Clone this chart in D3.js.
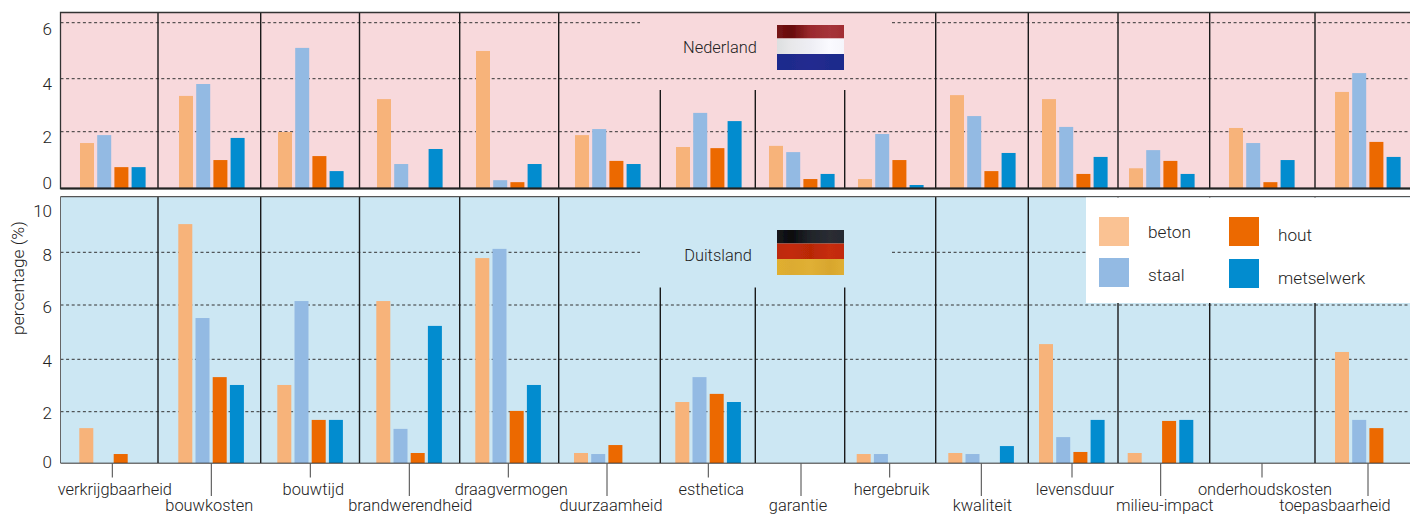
<!DOCTYPE html>
<html>
<head>
<meta charset="utf-8">
<script src="https://cdn.jsdelivr.net/npm/d3@7"></script>
<style>
  html, body { margin: 0; padding: 0; background: #fff; }
  svg { display: block; }
  text { font-family: Roboto, sans-serif; font-weight: 300; fill: #222; }
</style>
</head>
<body>
<div id="chart"></div>
<script>
const categories = ["verkrijgbaarheid", "bouwkosten", "bouwtijd", "brandwerendheid", "draagvermogen",
    "duurzaamheid", "esthetica", "garantie", "hergebruik", "kwaliteit", "levensduur", "milieu-impact",
    "onderhoudskosten", "toepasbaarheid"];
const materials = ["beton", "staal", "hout", "metselwerk"];

// per categorie: beton, staal, hout, metselwerk (0 = geen staaf)
const nederland = [
    [1.60, 1.88, 0.75, 0.75],
    [3.35, 3.80, 1.00, 1.78],
    [1.99, 5.10, 1.14, 0.61],
    [3.23, 0.86, 0, 1.39],
    [4.99, 0.29, 0.22, 0.86],
    [1.88, 2.10, 0.97, 0.86],
    [1.46, 2.71, 1.42, 2.40],
    [1.50, 1.28, 0.33, 0.51],
    [0.33, 1.92, 1.00, 0.12],
    [3.38, 2.59, 0.61, 1.25],
    [3.23, 2.18, 0.51, 1.11],
    [0.71, 1.35, 0.97, 0.51],
    [2.14, 1.60, 0.22, 1.00],
    [3.50, 4.20, 1.64, 1.11]
];
const duitsland = [
    [1.36, 0, 0.35, 0],
    [9.07, 5.52, 3.32, 3.02],
    [3.02, 6.15, 1.68, 1.68],
    [6.15, 1.33, 0.39, 5.23],
    [7.78, 8.13, 2.03, 3.02],
    [0.39, 0.35, 0.70, 0],
    [2.37, 3.32, 2.68, 2.37],
    [0, 0, 0, 0],
    [0.35, 0.35, 0, 0],
    [0.39, 0.35, 0, 0.66],
    [4.56, 1.01, 0.43, 1.68],
    [0.39, 0, 1.64, 1.68],
    [0, 0, 0, 0],
    [4.27, 1.68, 1.36, 0]
];
const ticksNL = [0, 2, 4, 6];
const ticksDE = [0, 2, 4, 6, 8, 10];

const colors = { beton: "#f7b37a", staal: "#93bae3", hout: "#ec6900", metselwerk: "#028ccf" };

const width = 1410, height = 515, left = 60.5;

// de kolommen in het origineel zijn niet even breed
const groupLeftNL = [80, 179, 278, 377, 476, 575, 676, 769, 858, 950, 1042, 1129, 1229, 1335];
const groupLeftDE = [79.3, 178.3, 277.3, 376.3, 475.3, 574, 675.3, 768, 856.7, 948.3, 1039, 1127.7, 1229, 1335];
const fullSeparators = [158, 260.7, 359.5, 459.7, 558.7, 935.7, 1028.3, 1118, 1209.7, 1315];
const shortSeparators = [660.3, 755.3, 844.7];
const labelShift = [2.5, -2, 3, 1, 3, 4, 3, -3, 2, 1, 3, 4, 3, -33];

const panelNL = { top: 13, bottom: 188.4, grid: [131.7, 78.7, 22.7], labels: [183, 137, 84, 29], shortTop: 90 };
const panelDE = { top: 197, bottom: 463, grid: [411.7, 359.3, 305, 252.3, 199.6], labels: [461.5, 413, 361, 307, 255, 211], shortTop: 287.5 };

const svg = d3.select("#chart").append("svg")
    .attr("width", width)
    .attr("height", height);

const defs = svg.append("defs");
defs.append("filter").attr("id", "soft").append("feGaussianBlur").attr("stdDeviation", 0.7);

// binnen een groep staan de vier staven altijd op dezelfde afstand
const inner = d3.scaleBand().domain(materials).range([0, 65.6]).paddingInner(0.186);
const indexes = d3.range(categories.length);
const xNL = d3.scaleLinear().domain(indexes).range(groupLeftNL);
const xDE = d3.scaleLinear().domain(indexes).range(groupLeftDE);

function drawPanel(panel, background, values, x, gridTicks, labelTicks) {
    const y = d3.scaleLinear()
        .domain(labelTicks.length > 4 ? [0, 2, 4, 6, 8, 10] : [0, 2, 4, 6])
        .range([panel.bottom].concat(panel.grid));
    const labelY = d3.scaleLinear().domain(labelTicks).range(panel.labels);
    const g = svg.append("g");

    g.append("rect")
        .attr("x", left).attr("y", panel.top)
        .attr("width", width - left).attr("height", panel.bottom - panel.top)
        .attr("fill", background);

    // gestippelde lijnen, de bovenste loopt niet door achter de landnaam
    const topTick = d3.max(gridTicks);
    gridTicks.forEach(t => {
        const spans = t === topTick ? [[left, 640], [892, width]] : [[left, width]];
        spans.forEach(s => {
            g.append("line")
                .attr("x1", s[0]).attr("x2", s[1])
                .attr("y1", y(t)).attr("y2", y(t))
                .attr("stroke", "#333")
                .attr("stroke-dasharray", "3 2.6");
        });
    });

    g.selectAll(".full").data(fullSeparators).join("line")
        .attr("x1", d => d).attr("x2", d => d)
        .attr("y1", panel.top).attr("y2", panel.bottom)
        .attr("stroke", "#1a1a1a").attr("stroke-width", 1.4);
    g.selectAll(".short").data(shortSeparators).join("line")
        .attr("x1", d => d).attr("x2", d => d)
        .attr("y1", panel.shortTop).attr("y2", panel.bottom)
        .attr("stroke", "#1a1a1a").attr("stroke-width", 1.4);

    categories.forEach((c, i) => {
        materials.forEach((m, j) => {
            const v = values[i][j];
            if (!v) return;
            g.append("rect")
                .attr("x", x(i) + inner(m))
                .attr("y", y(v))
                .attr("width", inner.bandwidth())
                .attr("height", y(0) - y(v))
                .attr("fill", colors[m]);
        });
    });

    g.selectAll(".tick-label").data(labelTicks).join("text")
        .attr("x", 52)
        .attr("y", d => labelY(d))
        .attr("text-anchor", "end")
        .attr("dominant-baseline", "central")
        .attr("font-size", 17)
        .text(d => d);

    return g;
}

const gNL = drawPanel(panelNL, "#f8d9dc", nederland, xNL, [2, 4, 6], ticksNL);
const gDE = drawPanel(panelDE, "#cce7f3", duitsland, xDE, [2, 4, 6, 8], ticksDE);

// kaders
gNL.append("path")
    .attr("d", d3.line()([[width, 12.5], [left, 12.5], [left, 188.5], [width, 188.5]]))
    .attr("fill", "none").attr("stroke", "#333").attr("stroke-width", 1.3);
gNL.append("line")
    .attr("x1", left).attr("x2", width).attr("y1", 188.5).attr("y2", 188.5)
    .attr("stroke", "#222").attr("stroke-width", 2);
gDE.append("line")
    .attr("x1", left).attr("x2", width).attr("y1", 196.7).attr("y2", 196.7)
    .attr("stroke", "#555").attr("stroke-width", 1.3);
gDE.append("line")
    .attr("x1", left).attr("x2", left).attr("y1", 196.7).attr("y2", 463)
    .attr("stroke", "#666").attr("stroke-width", 1);
gDE.append("line")
    .attr("x1", left).attr("x2", width).attr("y1", 463.2).attr("y2", 463.2)
    .attr("stroke", "#333").attr("stroke-width", 1);

// categorie-as met afwisselend korte en lange streepjes
const axisG = svg.append("g");
categories.forEach((c, i) => {
    const cx = xDE(i) + 33;
    const long = i % 2 === 1;
    axisG.append("line")
        .attr("x1", cx).attr("x2", cx)
        .attr("y1", 463.5).attr("y2", long ? 496 : 477.5)
        .attr("stroke", "#444");
    axisG.append("text")
        .attr("x", cx + labelShift[i])
        .attr("y", long ? 505.4 : 489.5)
        .attr("text-anchor", "middle")
        .attr("dominant-baseline", "central")
        .attr("font-size", 16.4)
        .text(c);
});

svg.append("text")
    .attr("transform", "translate(18,278) rotate(-90)")
    .attr("text-anchor", "middle")
    .attr("dominant-baseline", "central")
    .attr("font-size", 17.4)
    .text("percentage (%)");

// landnamen en vlaggen
svg.append("text").attr("x", 720).attr("y", 47.5)
    .attr("text-anchor", "middle").attr("dominant-baseline", "central")
    .attr("font-size", 16.4).text("Nederland");
svg.append("text").attr("x", 718).attr("y", 255)
    .attr("text-anchor", "middle").attr("dominant-baseline", "central")
    .attr("font-size", 16.4).text("Duitsland");

function flag(id, top, stripes) {
    const bands = [0, 13.5, 29, 45];
    defs.append("clipPath").attr("id", id + "-clip")
        .append("rect").attr("x", 777).attr("y", top).attr("width", 67).attr("height", 45);
    const f = svg.append("g").attr("clip-path", "url(#" + id + "-clip)")
        .append("g").attr("filter", "url(#soft)");
    stripes.forEach((stops, i) => {
        const grad = defs.append("linearGradient").attr("id", id + "-" + i);
        stops.forEach((s, k) => {
            grad.append("stop").attr("offset", k / (stops.length - 1)).attr("stop-color", s);
        });
        const y0 = i === 0 ? top - 5 : top + bands[i];
        const y1 = i === 2 ? top + 50 : top + bands[i + 1];
        f.append("rect")
            .attr("x", 772).attr("y", y0)
            .attr("width", 77).attr("height", y1 - y0)
            .attr("fill", "url(#" + id + "-" + i + ")");
    });
}
flag("nl", 25, [
    ["#7c1a1c", "#670a0a", "#9a2a2e", "#a5343a", "#a02a30"],
    ["#d8dcdc", "#e8e8ea", "#eeeef4", "#fafaff", "#f4f4fa"],
    ["#1f2c8e", "#1f2a8c", "#222a90", "#1f2a8c", "#1f2a8c"]
]);
flag("de", 230, [
    ["#1b1c20", "#0a0b0e", "#20242a", "#2a2d33", "#26282e"],
    ["#bb2a08", "#c32b08", "#b82806", "#c62d0a", "#c02a08"],
    ["#e2b12f", "#dcab30", "#e0b035", "#d8a62e", "#e2b232"]
]);

// legenda
const legend = svg.append("g");
legend.append("rect")
    .attr("x", 1086).attr("y", 197.5)
    .attr("width", width - 1086).attr("height", 105.5)
    .attr("fill", "#fff");
const legendX = d3.scaleOrdinal().domain(materials).range([1099, 1099, 1229, 1229]);
const legendY = d3.scaleOrdinal().domain(materials).range([217, 258, 217, 259]);
const legendTextY = d3.scaleOrdinal().domain(materials).range([232, 275, 235, 278]);
const legendColor = d3.scaleOrdinal().domain(materials).range(["#fac293", colors.staal, colors.hout, colors.metselwerk]);
legend.selectAll("rect.key").data(materials).join("rect")
    .attr("class", "key")
    .attr("x", d => legendX(d)).attr("y", d => legendY(d))
    .attr("width", 30).attr("height", 29)
    .attr("fill", d => legendColor(d));
legend.selectAll("text").data(materials).join("text")
    .attr("x", d => legendX(d) + 49).attr("y", d => legendTextY(d))
    .attr("dominant-baseline", "central")
    .attr("font-size", 17.2)
    .text(d => d);
</script>
</body>
</html>
